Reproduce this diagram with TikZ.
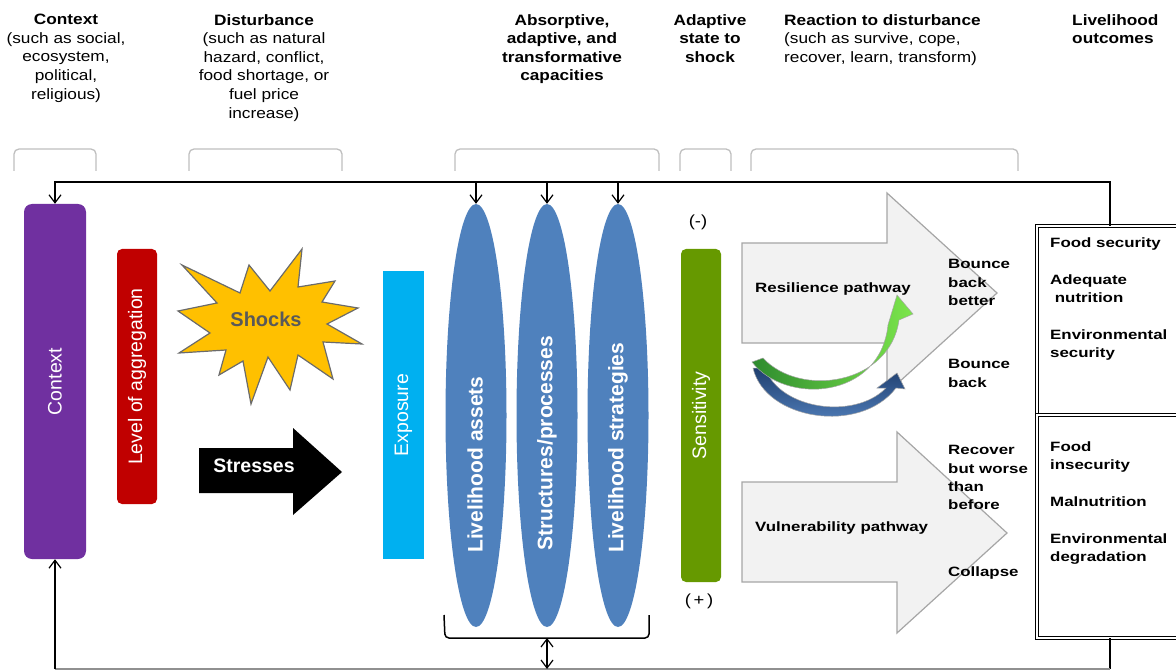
\documentclass[tikz,border=0pt]{standalone}
\usepackage{fontspec}
\setmainfont{Liberation Sans}
\newfontfamily\hf{Liberation Sans}[FakeStretch=1.15]
\newfontfamily\lf{Liberation Sans}[FakeStretch=1.25]
\usetikzlibrary{shapes.geometric,arrows.meta}
\definecolor{cpurple}{HTML}{7030A0}
\definecolor{cred}{HTML}{C00000}
\definecolor{cyell}{HTML}{FFC000}
\definecolor{cexp}{HTML}{00B0F0}
\definecolor{cell}{HTML}{4F81BD}
\definecolor{csens}{HTML}{669900}
\definecolor{cbig}{HTML}{F2F2F2}
\definecolor{cbigline}{HTML}{A6A6A6}
\definecolor{cbrk}{HTML}{BFBFBF}
\definecolor{cshock}{HTML}{595959}
\definecolor{cstarline}{HTML}{6B6B6B}
\definecolor{cgA}{HTML}{2E8B2E}
\definecolor{cgB}{HTML}{7CE64C}
\definecolor{cbA}{HTML}{1F3F6F}
\definecolor{cbB}{HTML}{5B8BC9}
\definecolor{cbot}{HTML}{909090}
\begin{document}
\begin{tikzpicture}[x=1pt,y=-1pt,
  hdr/.style={anchor=north, inner sep=0pt, align=center, font=\hf\fontsize{15}{18.6}\selectfont},
  lbl/.style={anchor=north west, inner sep=0pt, align=left, font=\lf\fontsize{13.5}{18.3}\selectfont\bfseries},
  sign/.style={inner sep=0pt, font=\hf\fontsize{16}{18}\selectfont},
  vbox/.style={rotate=90, inner sep=0pt, text=white, font=\fontsize{19.5}{22}\selectfont},
  etxt/.style={rotate=90, anchor=west, inner sep=0pt, text=white, font=\fontsize{21}{24}\selectfont\bfseries},
  ell/.style={ellipse, fill=cell, minimum width=61pt, minimum height=423pt, inner sep=0pt},
  brk/.style={draw=cbrk, line width=1.3pt, rounded corners=5pt},
  fb/.style={draw=black, line width=1.2pt},
  tip/.style={-{Straight Barb[length=8pt,width=12pt]}},
  bigarrow/.style={fill=cbig, draw=cbigline, line width=1.2pt},
  obox/.style={draw=black, double=white, double distance=1.8pt, line width=0.8pt, inner sep=0pt}
]
\path[use as bounding box] (0,0) rectangle (1176,671);
\clip (0,0) rectangle (1176,671);

% headers
\node[hdr] (hctx) at (66,14) {\textbf{Context}\\(such as social,\\ecosystem,\\political,\\religious)};
\node[hdr] (hdist) at (264,14) {\textbf{Disturbance}\\(such as natural\\hazard, conflict,\\food shortage, or\\fuel price\\increase)};
\node[hdr, font=\hf\fontsize{15}{18.6}\selectfont\bfseries] (hcap) at (562,14) {Absorptive,\\adaptive, and\\transformative\\capacities};
\node[hdr, font=\hf\fontsize{15}{18.6}\selectfont\bfseries] (hadp) at (710,14) {Adaptive\\state to\\shock};
\node[hdr, anchor=north west, align=left] (hreac) at (784,14) {\textbf{Reaction to disturbance}\\(such as survive, cope,\\recover, learn, transform)};
\node[hdr, anchor=north west, align=left, font=\hf\fontsize{15}{18.6}\selectfont\bfseries] (hout) at (1072,14) {Livelihood\\outcomes};

% header brackets
\draw[brk] (14,171) -- (14,149) -- (96,149) -- (96,171);
\draw[brk] (189,171) -- (189,149) -- (342,149) -- (342,171);
\draw[brk] (455,171) -- (455,149) -- (659,149) -- (659,171);
\draw[brk] (680,171) -- (680,149) -- (731,149) -- (731,171);
\draw[brk] (751,171) -- (751,149) -- (1018,149) -- (1018,171);

% boxes
\node[vbox, fill=cpurple, rounded corners=8pt, minimum width=355pt, minimum height=62pt] (ctx) at (55,381.5) {Context};
\node[vbox, fill=cred, rounded corners=5pt, minimum width=255pt, minimum height=40pt] (lvl) at (137,376.5) {Level of aggregation};
\node[vbox, fill=cexp, minimum width=288pt, minimum height=41pt] (exp) at (403.5,415) {Exposure};
\node[vbox, fill=csens, rounded corners=5pt, minimum width=333pt, minimum height=40pt] (sens) at (701,415.5) {Sensitivity};

% shocks star
\draw[fill=cyell, draw=cstarline, line width=1.2pt]
 (182,265) -- (240,293) -- (249,265) -- (270,291) -- (302,249) -- (298,287) -- (335,281) -- (322,302)
 -- (358,308) -- (327,324) -- (362,344) -- (323,342) -- (333,379) -- (298,355) -- (290,390) -- (268,357)
 -- (251,404) -- (243,361) -- (219,375) -- (226,350) -- (179,353) -- (210,333) -- (178,311) -- (217,303) -- cycle;
\node[inner sep=0pt, text=cshock, font=\fontsize{20}{22}\selectfont\bfseries] (shock) at (266,319) {Shocks};

% stresses arrow
\fill[black] (199,448) -- (293,448) -- (293,428) -- (342,472) -- (293,515) -- (293,493) -- (199,493) -- cycle;
\node[inner sep=0pt, text=white, font=\fontsize{19.5}{22}\selectfont\bfseries] (stress) at (254,466) {Stresses};

% ellipses
\node[ell] (e1) at (476,415.5) {};
\node[ell] (e2) at (547,415.5) {};
\node[ell] (e3) at (618,415.5) {};
\node[etxt] (t1) at (475,553) {Livelihood assets};
\node[etxt] (t2) at (547,551) {Structures/processes};
\node[etxt] (t3) at (618,553) {Livelihood strategies};

% signs
\node[sign] (minus) at (698,222) {(-)};
\node[sign] (plus) at (699,601) {(\,+\,)};

% pathway arrows
\draw[bigarrow] (742,243) -- (887,243) -- (887,193) -- (997,293) -- (887,393) -- (887,343) -- (742,343) -- cycle;
\draw[bigarrow] (742,482) -- (897,482) -- (897,432) -- (1007,533) -- (897,633) -- (897,582) -- (742,582) -- cycle;

% curved arrows
\shadedraw[top color=cbA, bottom color=cbB, draw=gray!70, line width=0.5pt]
 (753,368) .. controls (765,420) and (860,435) .. (896,388) -- (905,389) -- (897,373) -- (877,388) -- (886,388)
 .. controls (855,420) and (780,410) .. (765,368) -- cycle;
\shadedraw[left color=cgA, right color=cgB, draw=gray!70, line width=0.5pt]
 (752,362) .. controls (785,405) and (880,400) .. (888,325) -- (897,295) -- (913,314) -- (899,320)
 .. controls (890,385) and (800,398) .. (763,358) -- cycle;

% labels
\node[lbl] (res) at (755,282.5) {Resilience pathway};
\node[lbl] (vul) at (755,521.5) {Vulnerability pathway};
\node[lbl] (bbb) at (948,259.5) {Bounce\\back\\better};
\node[lbl] (bb) at (948,359.5) {Bounce\\back};
\node[lbl] (rec) at (948,445.5) {Recover\\but worse\\than\\before};
\node[lbl] (col) at (948,566.5) {Collapse};

% outcome boxes
\node[obox, minimum width=146pt, minimum height=189pt] (outU) at (1110,320.5) {};
\node[obox, minimum width=146pt, minimum height=223pt] (outL) at (1110,526.5) {};
\node[lbl] (o1) at (1050,237.5) {Food security};
\node[lbl] (o2) at (1050,274.5) {Adequate\\~nutrition};
\node[lbl] (o3) at (1050,329.5) {Environmental\\security};
\node[lbl] (o4) at (1050,441.5) {Food\\insecurity};
\node[lbl] (o5) at (1050,496.5) {Malnutrition};
\node[lbl] (o6) at (1050,533.5) {Environmental\\degradation};

% feedback connectors
\coordinate (tl) at (55,182);
\coordinate (tr) at (1110,182);
\coordinate (br) at (1110,669);
\coordinate (bl) at (55,669);
\draw[fb, tip] (outU.north) -- (tr) -- (tl) -- (ctx.east);
\draw[fb, tip] (e1.north |- tl) -- (e1.north);
\draw[fb, tip] (e2.north |- tl) -- (e2.north);
\draw[fb, tip] (e3.north |- tl) -- (e3.north);
\draw[fb] (outL.south) -- (br);
\draw[draw=cbot, line width=1.4pt] (br) -- (bl);
\draw[fb, tip] (bl) -- (ctx.west);

% brace under capacities
\coordinate (bmid) at (547,638);
\draw[line width=1.5pt, rounded corners=4pt] (444,615) -- (445,638) -- (649,638) -- (649,615);
\draw[fb, {Straight Barb[length=8pt,width=12pt]}-{Straight Barb[length=8pt,width=12pt]}] (bmid) -- (bmid |- bl);
\end{tikzpicture}
\end{document}
